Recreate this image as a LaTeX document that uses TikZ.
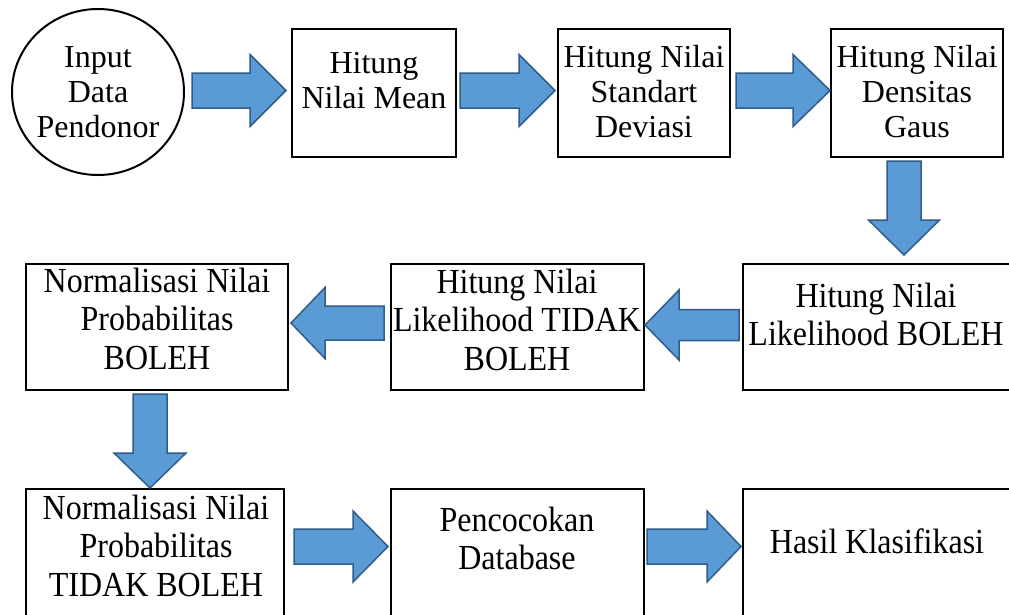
\documentclass[tikz,border=0pt]{standalone}
\usepackage{fontspec}
\setmainfont{Liberation Serif}
\usepackage{graphicx}
\usetikzlibrary{shapes.geometric}
\definecolor{arrfill}{HTML}{5B9BD5}
\definecolor{arrline}{HTML}{2F5C8A}
\tikzset{
  box/.style={draw,line width=2pt,rectangle,inner sep=0pt},
  blockarrow/.style={fill=arrfill,draw=arrline,line width=1.5pt,line join=miter},
  txt/.style={font=\fontsize{32}{35}\selectfont,align=center,inner sep=0pt}
}
\newcommand{\tallt}[1]{\scalebox{1}[1.1]{\begin{tabular}{@{}c@{}}#1\end{tabular}}}
% horizontal block arrow: tail x, head-start x, tip x, centre y, shaft half, head half
\newcommand{\hblock}[6]{\draw[blockarrow] (#1,#4-#5) -- (#2,#4-#5) -- (#2,#4-#6) -- (#3,#4) -- (#2,#4+#6) -- (#2,#4+#5) -- (#1,#4+#5) -- cycle;}
% vertical block arrow: tail y, head-start y, tip y, centre x, shaft half, head half
\newcommand{\vblock}[6]{\draw[blockarrow] (#4-#5,#1) -- (#4-#5,#2) -- (#4-#6,#2) -- (#4,#3) -- (#4+#6,#2) -- (#4+#5,#2) -- (#4+#5,#1) -- cycle;}
\begin{document}
\begin{tikzpicture}[x=1pt,y=-1pt]
\useasboundingbox (0,0) rectangle (1009,614);
\clip (0,0) rectangle (1009,614);
% nodes
\node[draw,line width=2pt,ellipse,minimum width=172pt,minimum height=166pt,inner sep=0pt] (c0) at (98,92) {};
\node[box,minimum width=164pt,minimum height=128pt] (b1) at (374,93) {};
\node[box,minimum width=172pt,minimum height=128pt] (b2) at (644,93) {};
\node[box,minimum width=172pt,minimum height=128pt] (b3) at (917,93) {};
\node[box,minimum width=277pt,minimum height=126pt] (b4) at (881.5,327) {};
\node[box,minimum width=253pt,minimum height=126pt] (b5) at (517.5,327) {};
\node[box,minimum width=262pt,minimum height=126pt] (b6) at (157,327) {};
\node[box,minimum width=258pt,minimum height=151pt] (b7) at (155,564.5) {};
\node[box,minimum width=253pt,minimum height=151pt] (b8) at (517.5,564.5) {};
\node[box,minimum width=277pt,minimum height=151pt] (b9) at (881.5,564.5) {};
% texts
\node[txt] (t0) at (98,92) {Input\\Data\\Pendonor};
\node[txt] (t1) at (374,81) {Hitung\\Nilai Mean};
\node[txt] (t2) at (644,92) {Hitung Nilai\\Standart\\Deviasi};
\node[txt] (t3) at (917,92) {Hitung Nilai\\Densitas\\Gaus};
\node[txt] (t4) at (876,319) {\tallt{Hitung Nilai\\Likelihood BOLEH}};
\node[txt] (t5) at (517,324) {\tallt{Hitung Nilai\\Likelihood TIDAK\\BOLEH}};
\node[txt] (t6) at (157,323) {\tallt{Normalisasi Nilai\\Probabilitas\\BOLEH}};
\node[txt] (t7) at (156,550) {\tallt{Normalisasi Nilai\\Probabilitas\\TIDAK BOLEH}};
\node[txt] (t8) at (517,543) {\tallt{Pencocokan\\Database}};
\node[txt] (t9) at (877,546) {\tallt{Hasil Klasifikasi}};
% block arrows
\hblock{192}{250}{286}{90.5}{17.5}{36}
\hblock{460}{519}{555}{90.5}{17.5}{36}
\hblock{736}{793}{830}{90.5}{17.5}{36}
\vblock{161}{220}{255}{904}{17}{35.5}
\hblock{739}{679}{645}{325}{15.5}{35}
\hblock{384}{325}{291}{323}{17}{35.5}
\vblock{394}{453}{488}{150}{17}{36}
\hblock{294}{353}{388}{546.5}{17.5}{35.5}
\hblock{647}{707}{741}{546.5}{17.5}{35.5}
\end{tikzpicture}
\end{document}
